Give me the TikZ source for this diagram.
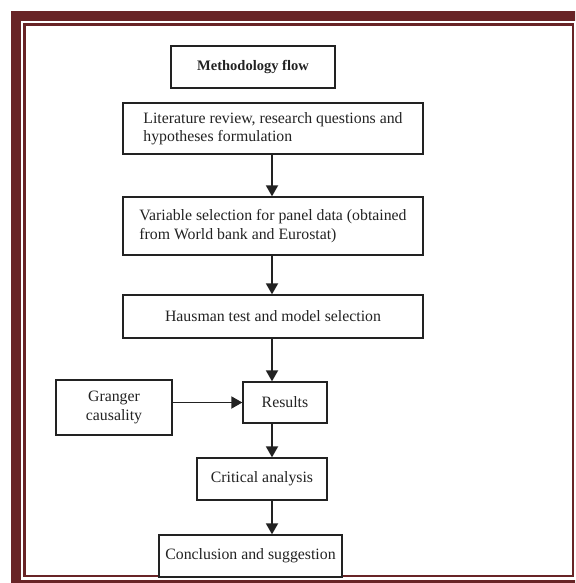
\documentclass[tikz,border=0pt]{standalone}
\usepackage{fontspec}
\setmainfont{Liberation Serif}
\usetikzlibrary{arrows.meta}
\definecolor{maroon}{RGB}{104,36,38}
\definecolor{ink}{RGB}{34,34,34}
\begin{document}
\begin{tikzpicture}[x=1pt,y=-1pt,
  stepbox/.style={draw=ink,line width=1.3pt,text=ink,inner sep=0pt,
    font=\fontsize{15.8}{18.5}\selectfont,align=center},
  arr/.style={draw=ink,line width=1.8pt,-{Triangle[length=11pt,width=12pt]}}]
\useasboundingbox (0,0) rectangle (575,583);
\begin{scope}
\clip (0,0) rectangle (575,583);
\draw[maroon,line width=10pt] (16,16) rectangle (582,585);
\draw[maroon,line width=2.6pt] (24.5,24.5) rectangle (573,576);
\end{scope}
\coordinate (ax) at (272,0);
\node[stepbox,minimum width=164pt,minimum height=42pt,font=\fontsize{14.5}{17}\selectfont\bfseries] (mf) at (253,67) {Methodology flow};
\node[stepbox,minimum width=300pt,minimum height=51pt,align=left] (lit) at (273,128.5) {Literature review, research questions and\\hypotheses formulation};
\node[stepbox,minimum width=300pt,minimum height=58pt,align=left] (var) at (273,226) {Variable selection for panel data (obtained\\from World bank and Eurostat)};
\node[stepbox,minimum width=300pt,minimum height=43pt] (hau) at (273,316.5) {Hausman test and model selection};
\node[stepbox,minimum width=84pt,minimum height=41pt] (res) at (285,402.5) {Results};
\node[stepbox,minimum width=116pt,minimum height=55pt] (gra) at (114,407.5) {Granger\\causality};
\node[stepbox,minimum width=130pt,minimum height=42pt] (cri) at (262,479) {Critical analysis};
\node[stepbox,minimum width=183pt,minimum height=42pt,fill=white] (con) at (250.5,556) {Conclusion and suggestion};
\draw[arr] (lit.south -| ax) -- (var.north -| ax);
\draw[arr] (var.south -| ax) -- (hau.north -| ax);
\draw[arr] (hau.south -| ax) -- (res.north -| ax);
\draw[arr] (res.south -| ax) -- (cri.north -| ax);
\draw[arr] (cri.south -| ax) -- (con.north -| ax);
\draw[arr] (gra.east |- res.west) -- (res.west);
\end{tikzpicture}
\end{document}
